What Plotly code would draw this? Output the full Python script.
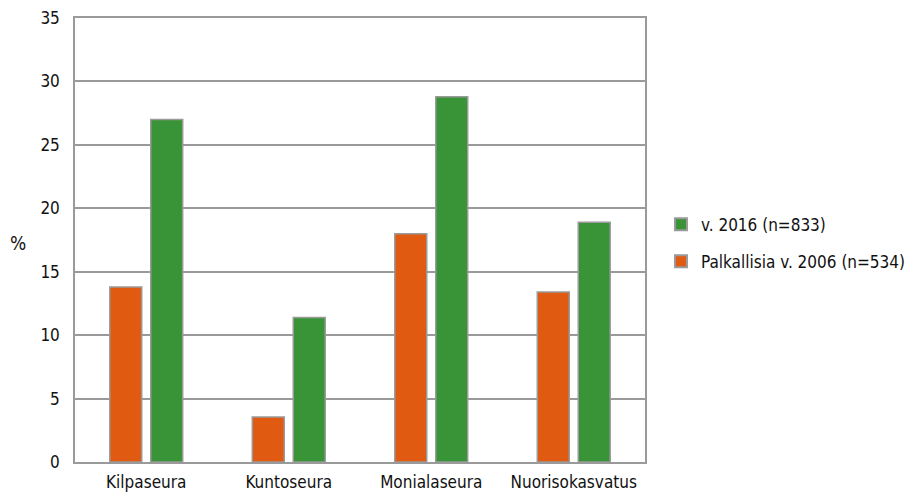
import plotly.graph_objects as go

# Values
categories = ["Kilpaseura", "Kuntoseura", "Monialaseura", "Nuorisokasvatus"]
palkalliset_2006 = [13.8, 3.55, 18.0, 13.4]
v_2016 = [27.0, 11.4, 28.8, 18.9]
y_ticks = [0, 5, 10, 15, 20, 25, 30, 35]

FONT = "Liberation Sans Narrow, DejaVu Sans Condensed, sans-serif"
edge = dict(color="#9a9a9a", width=1.5)

fig = go.Figure()
fig.add_trace(go.Bar(x=categories, y=palkalliset_2006, name="Palkallisia v. 2006 (n=534)",
                     legendgroup="a", legendrank=2,
                     marker=dict(color="#e05a12", line=edge)))
fig.add_trace(go.Bar(x=categories, y=v_2016, name="v. 2016 (n=833)",
                     legendgroup="b", legendrank=1,
                     marker=dict(color="#389436", line=edge)))

fig.update_layout(
    width=917, height=496,
    margin=dict(l=67, r=280, t=10, b=42, autoexpand=False),
    paper_bgcolor="white", plot_bgcolor="white",
    font=dict(family=FONT, size=17, color="#111"),
    barmode="group", bargap=0.425, bargroupgap=0.22,
    showlegend=True,
    legend=dict(x=1.028, y=0.493, xanchor="left", yanchor="middle",
                traceorder="grouped", font=dict(size=17),
                itemsizing="constant", tracegroupgap=12),
    xaxis=dict(showline=True, linecolor="#9a9a9a", linewidth=1.5, mirror=True,
               showgrid=False, ticks="", tickfont=dict(size=17), ticklabelstandoff=4,
               automargin=False),
    yaxis=dict(range=[0, 35], tickvals=y_ticks, showline=True, linecolor="#9a9a9a",
               linewidth=1.5, mirror=True, gridcolor="#9a9a9a", gridwidth=1.5,
               zeroline=False, ticks="", ticklabelstandoff=10, tickfont=dict(size=17),
               ticklabeloverflow="allow", automargin=False),
    annotations=[dict(text="%", xref="paper", yref="paper", x=-0.1, y=0.493,
                      xanchor="center", yanchor="middle", showarrow=False,
                      font=dict(size=19))],
)

fig.write_html("out.html")
